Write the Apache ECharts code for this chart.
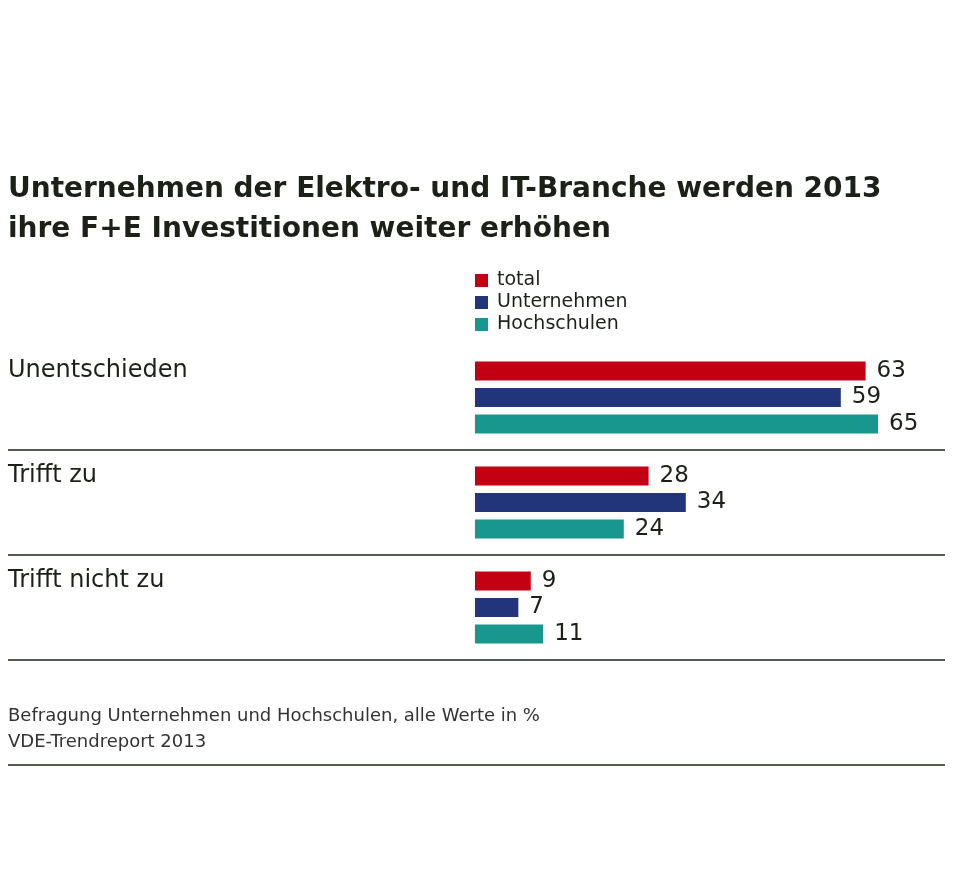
<!DOCTYPE html>
<html><head><meta charset="utf-8">
<script src="https://cdn.jsdelivr.net/npm/echarts@6/dist/echarts.min.js"></script>
<style>html,body{margin:0;padding:0;background:#fff}#c{width:960px;height:892px}</style>
</head><body><div id="c"></div>
<script>
const categories = ['Unentschieden', 'Trifft zu', 'Trifft nicht zu'];
const seriesNames = ['total', 'Unternehmen', 'Hochschulen'];
const totalValues = [63, 28, 9];
const unternehmenValues = [59, 34, 7];
const hochschulenValues = [65, 24, 11];
const titleText = 'Unternehmen der Elektro- und IT-Branche werden 2013\nihre F+E Investitionen weiter erhöhen';
const footnoteText = 'Befragung Unternehmen und Hochschulen, alle Werte in %\nVDE-Trendreport 2013';

const colors = ['#c20012', '#23357a', '#18978f'];
const font = 'DejaVu Sans';
const textColor = '#1c2118';
const lineColor = '#565b50';

const chart = echarts.init(document.getElementById('c'));
const values = [totalValues, unternehmenValues, hochschulenValues];
chart.setOption({
  animation: false,
  backgroundColor: '#fff',
  title: [
    { text: titleText, left: 3, top: 165,
      textStyle: { fontFamily: font, fontSize: 28, fontWeight: 'bold', color: textColor, lineHeight: 40 } },
    { text: footnoteText, left: 3, top: 698,
      textStyle: { fontFamily: font, fontSize: 18, fontWeight: 'normal', color: '#333', lineHeight: 26 } }
  ],
  legend: {
    orient: 'vertical', left: 475, top: 271, padding: 0,
    itemWidth: 13, itemHeight: 13, itemGap: 3,
    icon: 'rect',
    textStyle: { fontFamily: font, fontSize: 19, lineHeight: 19, color: textColor, padding: [0, 0, 0, 4] },
    data: seriesNames
  },
  grid: { left: 8, right: 15, top: 345, height: 315, containLabel: false },
  xAxis: {
    type: 'value', min: -75.3, max: 75.8, show: false
  },
  yAxis: {
    type: 'category', data: categories, inverse: true,
    axisLine: { show: false }, axisTick: { show: false },
    axisLabel: {
      inside: true, margin: 0, align: 'left', verticalAlign: 'bottom',
      lineHeight: 54,
      fontFamily: font, fontSize: 24, color: textColor
    },
    splitLine: {
      show: true, interval: function (i) { return i > 0; },
      lineStyle: { color: lineColor, width: 2 }
    }
  },
  series: seriesNames.map((name, k) => ({
    name: name, type: 'bar', data: values[k],
    barWidth: 19, barGap: '40%',
    itemStyle: { color: colors[k] },
    label: { show: true, position: 'right', distance: 11,
      fontFamily: font, fontSize: 23, color: textColor }
  })),
  graphic: [
    { type: 'line', shape: { x1: 8, y1: 765, x2: 945, y2: 765 },
      style: { stroke: lineColor, lineWidth: 2 } }
  ]
});
</script></body></html>
